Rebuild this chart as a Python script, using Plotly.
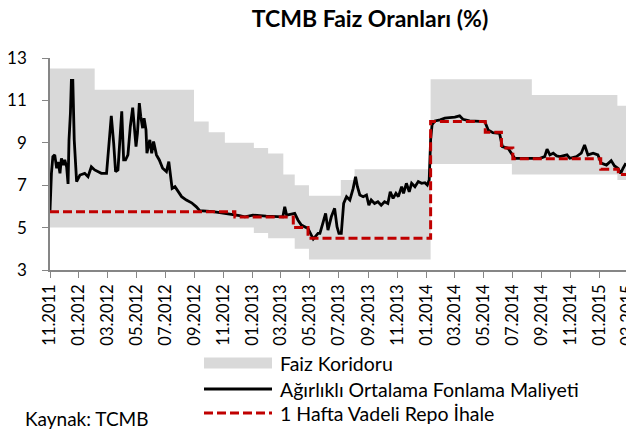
import plotly.graph_objects as go

# Faiz koridoru (üst / alt bant), adım değişim tarihleri
upper_dates = ["2011-11-01", "2012-02-03", "2012-08-30", "2012-09-30", "2012-11-03",
               "2013-01-03", "2013-02-02", "2013-03-06", "2013-03-30", "2013-04-29",
               "2013-07-05", "2013-08-03", "2014-01-10", "2014-08-11", "2015-02-07",
               "2015-03-14"]
upper_values = [12.5, 11.5, 10.0, 9.5, 9.0, 8.75, 8.5, 7.5, 7.0, 6.5,
                7.25, 7.75, 12.0, 11.25, 10.75, 10.75]

lower_dates = ["2011-11-01", "2013-01-03", "2013-02-02", "2013-03-30", "2013-04-29",
               "2014-01-10", "2014-06-30", "2015-02-07", "2015-03-14"]
lower_values = [5.0, 4.75, 4.5, 4.0, 3.5, 8.0, 7.5, 7.25, 7.25]

# 1 hafta vadeli repo
repo_dates = ["2011-11-01", "2012-11-24", "2013-03-27", "2013-04-27", "2014-01-10",
              "2014-05-05", "2014-06-08", "2014-07-02", "2015-01-03", "2015-02-09",
              "2015-03-05"]
repo_values = [5.75, 5.5, 5.0, 4.5, 10.0, 9.5, 8.75, 8.25, 7.75, 7.5, 7.5]

# Ağırlıklı ortalama fonlama maliyeti
cost_dates = [
    "2011-11-01", "2011-11-04", "2011-11-07", "2011-11-11", "2011-11-15", "2011-11-18",
    "2011-11-22", "2011-11-25", "2011-11-29", "2011-12-02", "2011-12-06", "2011-12-09",
    "2011-12-11", "2011-12-14", "2011-12-16", "2011-12-19", "2011-12-22", "2011-12-27",
    "2012-01-03", "2012-01-13", "2012-01-20", "2012-01-27", "2012-02-03", "2012-02-10",
    "2012-02-17", "2012-02-28", "2012-03-04", "2012-03-09", "2012-03-14", "2012-03-18",
    "2012-03-23", "2012-03-31", "2012-04-04", "2012-04-08", "2012-04-13", "2012-04-18",
    "2012-04-23", "2012-04-26", "2012-04-30", "2012-05-03", "2012-05-07", "2012-05-10",
    "2012-05-14", "2012-05-17", "2012-05-21", "2012-05-23", "2012-05-29", "2012-06-02",
    "2012-06-06", "2012-06-12", "2012-06-18", "2012-06-25", "2012-07-03", "2012-07-08",
    "2012-07-12", "2012-07-15", "2012-07-21", "2012-07-28", "2012-08-04", "2012-08-14",
    "2012-08-25", "2012-09-04", "2012-09-11", "2012-10-09", "2012-11-06", "2012-12-04",
    "2012-12-15", "2013-01-01", "2013-01-29", "2013-03-05", "2013-03-09", "2013-03-13",
    "2013-03-23", "2013-03-30", "2013-04-06", "2013-04-13", "2013-04-27", "2013-05-08",
    "2013-05-18", "2013-05-22", "2013-05-29", "2013-06-03", "2013-06-08", "2013-06-15",
    "2013-06-22", "2013-06-27", "2013-07-01", "2013-07-06", "2013-07-11", "2013-07-17",
    "2013-07-24", "2013-07-31", "2013-08-05", "2013-08-09", "2013-08-14", "2013-08-21",
    "2013-08-28", "2013-09-02", "2013-09-07", "2013-09-14", "2013-09-21", "2013-09-28",
    "2013-10-05", "2013-10-12", "2013-10-17", "2013-10-23", "2013-10-29", "2013-11-03",
    "2013-11-10", "2013-11-14", "2013-11-20", "2013-11-26", "2013-12-01", "2013-12-08",
    "2013-12-15", "2013-12-22", "2013-12-29", "2014-01-03", "2014-01-07", "2014-01-10",
    "2014-01-13", "2014-01-19", "2014-01-30", "2014-02-09", "2014-02-19", "2014-03-02",
    "2014-03-12", "2014-03-19", "2014-04-02", "2014-04-16", "2014-05-04", "2014-05-11",
    "2014-05-21", "2014-06-04", "2014-06-10", "2014-06-22", "2014-06-29", "2014-07-06",
    "2014-07-31", "2014-08-28", "2014-09-07", "2014-09-12", "2014-09-18", "2014-09-25",
    "2014-10-02", "2014-10-09", "2014-10-24", "2014-10-30", "2014-11-13", "2014-11-23",
    "2014-11-30", "2014-12-07", "2014-12-18", "2014-12-28", "2015-01-04", "2015-01-15",
    "2015-01-25", "2015-02-01", "2015-02-08", "2015-02-14", "2015-02-19", "2015-02-25",
]
cost_values = [
    5.80, 7.56, 8.35, 8.43, 7.80, 8.10,
    7.56, 8.27, 7.95, 8.19, 7.87, 7.06,
    9.14, 10.40, 11.94, 11.94, 9.14, 7.17,
    7.48, 7.56, 7.40, 7.87, 7.72, 7.64,
    7.56, 7.56, 8.82, 10.27, 8.98, 7.64,
    7.72, 10.48, 8.19, 8.19, 8.43, 9.77,
    10.66, 9.93, 8.82, 9.45, 10.87, 10.24,
    9.69, 10.16, 9.61, 8.51, 9.14, 8.51,
    9.06, 8.43, 8.19, 7.80, 7.64, 8.11,
    7.40, 6.85, 6.93, 6.69, 6.46, 6.30,
    6.17, 5.98, 5.80, 5.75, 5.67, 5.56,
    5.51, 5.59, 5.54, 5.51, 5.98, 5.59,
    5.64, 5.67, 5.35, 5.12, 4.96, 4.46,
    4.73, 4.73, 5.27, 5.67, 4.88, 5.51,
    5.91, 5.04, 4.73, 4.73, 6.14, 6.46,
    6.30, 6.85, 7.40, 6.93, 6.54, 6.46,
    6.54, 6.06, 6.30, 6.14, 6.22, 6.06,
    6.22, 6.14, 6.69, 6.38, 6.62, 6.46,
    6.93, 6.62, 7.09, 6.69, 7.09, 6.93,
    7.17, 7.09, 7.12, 7.01, 7.25, 9.14,
    9.85, 10.03, 10.08, 10.16, 10.19, 10.21,
    10.27, 10.11, 10.03, 10.03, 10.00, 9.61,
    9.48, 9.45, 8.82, 8.74, 8.51, 8.27,
    8.27, 8.27, 8.35, 8.70, 8.43, 8.51,
    8.38, 8.35, 8.43, 8.27, 8.35, 8.51,
    8.90, 8.43, 8.51, 8.43, 8.04, 7.95,
    8.16, 7.91, 7.80, 7.56, 7.80, 8.04,
]

tick_labels = ["11.2011", "01.2012", "03.2012", "05.2012", "07.2012", "09.2012",
               "11.2012", "01.2013", "03.2013", "05.2013", "07.2013", "09.2013",
               "11.2013", "01.2014", "03.2014", "05.2014", "07.2014", "09.2014",
               "11.2014", "01.2015", "03.2015"]
tick_dates = [f"{t[3:]}-{t[:2]}-01" for t in tick_labels]

FONT = "Lato, 'Liberation Sans', sans-serif"
AXIS_GRAY = "#868686"
CORRIDOR = "#d9d9d9"
COST_COLOR = "#000000"
REPO_COLOR = "#c00000"

# figure size / margins (page body adds an 8px offset)
W, H = 626, 421
ML, MR, MT, MB = 42, 0, 50, 159
PW, PH = W - ML - MR, H - MT - MB


def px(x):
    """figure pixel x -> paper x"""
    return (x - ML) / PW


def py(y):
    """figure pixel y (from top) -> paper y"""
    return (H - MB - y) / PH


fig = go.Figure()

# alt bant (görünmez), üst bant alt banda kadar dolgu
fig.add_trace(go.Scatter(
    x=lower_dates, y=lower_values, mode="lines",
    line=dict(width=0, shape="hv", color=CORRIDOR),
    showlegend=False, hoverinfo="skip",
))
fig.add_trace(go.Scatter(
    x=upper_dates, y=upper_values, mode="lines", name="Faiz Koridoru",
    line=dict(width=0, shape="hv", color=CORRIDOR),
    fill="tonexty", fillcolor=CORRIDOR, showlegend=False,
))
fig.add_trace(go.Scatter(
    x=cost_dates, y=cost_values, mode="lines",
    name="Ağırlıklı Ortalama Fonlama Maliyeti",
    line=dict(color=COST_COLOR, width=2.8), showlegend=False,
))
fig.add_trace(go.Scatter(
    x=repo_dates, y=repo_values, mode="lines",
    name="1 Hafta Vadeli Repo İhale",
    line=dict(color=REPO_COLOR, width=3, shape="hv", dash="9px,4px"),
    showlegend=False,
))

# legend drawn by hand so rows sit as in the original
legend_rows = [
    ("Faiz Koridoru", "box", CORRIDOR, 355),
    ("Ağırlıklı Ortalama Fonlama Maliyeti", "line", COST_COLOR, 381),
    ("1 Hafta Vadeli Repo İhale", "dash", REPO_COLOR, 405),
]
shapes = []
annotations = []
for label, kind, color, yc in legend_rows:
    if kind == "box":
        shapes.append(dict(type="rect", xref="paper", yref="paper",
                           x0=px(196), x1=px(264), y0=py(yc + 5.5), y1=py(yc - 5.5),
                           fillcolor=color, line=dict(width=0)))
    else:
        shapes.append(dict(type="line", xref="paper", yref="paper",
                           x0=px(196), x1=px(264), y0=py(yc), y1=py(yc),
                           line=dict(color=color, width=3,
                                     dash="solid" if kind == "line" else "9px,4px")))
    annotations.append(dict(text=label, showarrow=False, xref="paper", yref="paper",
                            x=px(270), xanchor="left", y=py(yc), yanchor="middle",
                            font=dict(size=19.5, family=FONT, color="#000")))

annotations.append(dict(
    text="Kaynak: TCMB", showarrow=False,
    xref="paper", yref="paper",
    x=px(15), xanchor="left", y=py(410), yanchor="middle",
    font=dict(size=19, family=FONT, color="#000"),
))

fig.update_layout(
    width=W, height=H,
    paper_bgcolor="white", plot_bgcolor="white",
    font=dict(family=FONT, size=18, color="#000"),
    margin=dict(l=ML, r=MR, t=MT, b=MB, autoexpand=False),
    title=dict(
        text="<b>TCMB Faiz Oranları (%)</b>",
        font=dict(size=23, family=FONT, color="#000"),
        x=362 / W, xanchor="center", xref="container",
        y=1 - 11 / H, yanchor="middle", yref="container",
    ),
    showlegend=False,
    xaxis=dict(
        type="date",
        range=["2011-11-01", "2015-03-14"],
        tickvals=tick_dates, ticktext=tick_labels,
        tickangle=-90,
        tickfont=dict(size=16.5, family=FONT),
        ticklabeloverflow="allow",
        ticks="outside", ticklen=6, tickcolor=AXIS_GRAY,
        showline=True, linecolor=AXIS_GRAY, linewidth=1.5,
        showgrid=False, zeroline=False,
    ),
    yaxis=dict(
        range=[3, 13],
        tickvals=[3, 5, 7, 9, 11, 13],
        tickfont=dict(size=17, family=FONT),
        ticks="outside", ticklen=6, tickcolor=AXIS_GRAY,
        ticklabelstandoff=12,
        showline=True, linecolor=AXIS_GRAY, linewidth=1.5,
        showgrid=False, zeroline=False,
    ),
    shapes=shapes,
    annotations=annotations,
)

fig.write_html("out.html")
